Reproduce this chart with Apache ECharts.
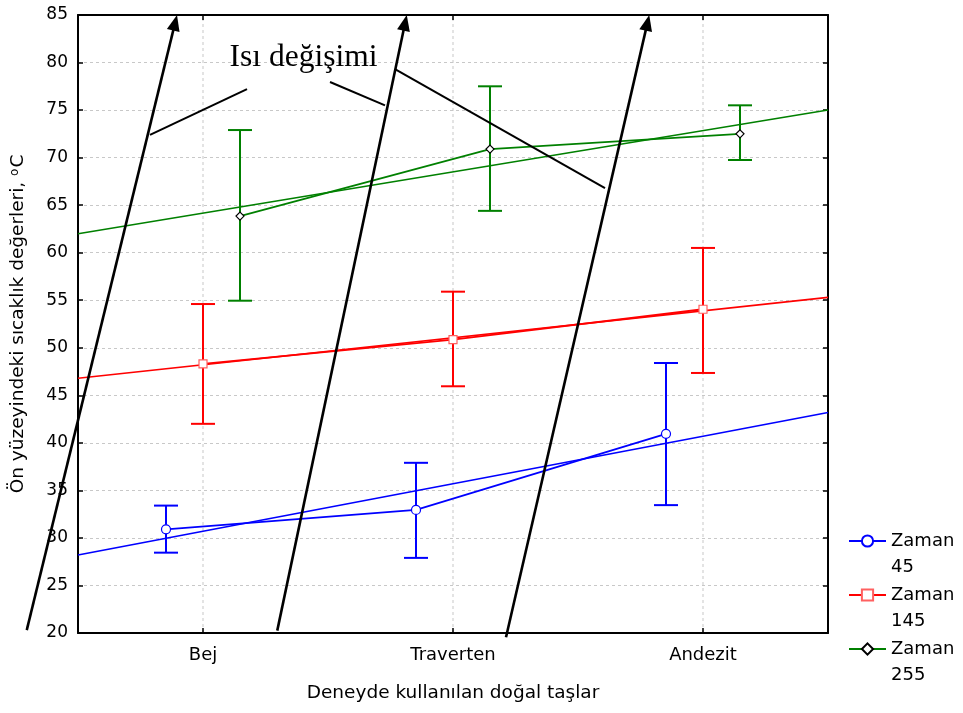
<!DOCTYPE html>
<html>
<head>
<meta charset="utf-8">
<script src="https://cdn.jsdelivr.net/npm/echarts@6/dist/echarts.min.js"></script>
<style>
html,body{margin:0;padding:0;background:#fff;}
#c{width:963px;height:713px;}
</style>
</head>
<body>
<div id="c"></div>
<script>
// ---- data ----
const categories = ['Bej', 'Traverten', 'Andezit'];
const seriesNames = ['Zaman 45', 'Zaman 145', 'Zaman 255'];
const mean45 = [30.9, 32.95, 40.95];
const low45 = [28.45, 27.9, 33.45];
const high45 = [33.4, 37.9, 48.4];
const mean145 = [48.3, 50.85, 54.05];
const low145 = [42.0, 45.95, 47.35];
const high145 = [54.6, 55.9, 60.5];
const mean255 = [63.85, 70.9, 72.5];
const low255 = [54.95, 64.4, 69.75];
const high255 = [72.9, 77.5, 75.5];
const trend45 = [28.2, 43.2];
const trend145 = [46.8, 55.3];
const trend255 = [62.0, 75.0];
const yTicks = [20, 25, 30, 35, 40, 45, 50, 55, 60, 65, 70, 75, 80, 85];
const annotationText = 'Isı değişimi';
// annotation arrows / pointer lines in data space [x1, y1, x2, y2]
const arrows = [
  [-0.205, 20.3, 0.396, 85],
  [0.797, 20.25, 1.315, 85],
  [1.712, 19.55, 2.285, 85]
];
const pointers = [
  [0.288, 72.4, 0.676, 77.2],
  [1.008, 77.95, 1.228, 75.5],
  [1.268, 79.3, 2.108, 66.8]
];
const annotationPos = [0.902, 80.5];

// ---- build ----
const colors = ['#0000ff', '#ff0000', '#008000'];
const markerSymbols = ['circle', 'rect', 'diamond'];
const markerSizes = [9, 8, 8];
const markerBorders = ['#0000ff', '#ff6060', '#000000'];
const offsets = [-0.148, 0, 0.148];
const means = [mean45, mean145, mean255];
const lows = [low45, low145, low255];
const highs = [high45, high145, high255];
const trends = [trend45, trend145, trend255];
const font = '"DejaVu Sans", Arial, sans-serif';

const series = [];

// vertical grid lines at category centres
series.push({
  type: 'custom', name: 'vgrid', xAxisIndex: 2, yAxisIndex: 0, z: 0, silent: true,
  data: categories.map((c, i) => [i + 0.5]),
  renderItem: function (params, api) {
    const x = api.value(0);
    const p1 = api.coord([x, yTicks[0]]);
    const p2 = api.coord([x, yTicks[yTicks.length - 1]]);
    return { type: 'line', shape: { x1: p1[0], y1: p1[1], x2: p2[0], y2: p2[1] },
      style: { stroke: '#c8c8c8', lineWidth: 1, lineDash: [3, 3] } };
  }
});

for (let s = 0; s < 3; s++) {
  series.push({
    type: 'line', name: seriesNames[s], xAxisIndex: 2, yAxisIndex: 0, z: 4,
    data: means[s].map((v, i) => [i + 0.5 + offsets[s], v]),
    symbol: markerSymbols[s], symbolSize: markerSizes[s],
    lineStyle: { color: colors[s], width: 1.8 },
    itemStyle: { color: '#ffffff', borderColor: markerBorders[s], borderWidth: 1.2 },
    emphasis: { disabled: true }
  });
}
for (let s = 0; s < 3; s++) {
  series.push({
    type: 'custom', name: seriesNames[s], xAxisIndex: 2, yAxisIndex: 0, z: 3,
    data: means[s].map((v, i) => [i + 0.5 + offsets[s], lows[s][i], highs[s][i]]),
    renderItem: (function (col) {
      return function (params, api) {
        const x = api.value(0);
        const lo = api.coord([x, api.value(1)]);
        const hi = api.coord([x, api.value(2)]);
        const w = 12;
        const st = { stroke: col, lineWidth: 2 };
        return { type: 'group', children: [
          { type: 'line', shape: { x1: hi[0], y1: hi[1], x2: lo[0], y2: lo[1] }, style: st },
          { type: 'line', shape: { x1: hi[0] - w, y1: hi[1], x2: hi[0] + w, y2: hi[1] }, style: st },
          { type: 'line', shape: { x1: lo[0] - w, y1: lo[1], x2: lo[0] + w, y2: lo[1] }, style: st }
        ] };
      };
    })(colors[s])
  });
  series.push({
    type: 'line', name: 'trend ' + seriesNames[s], xAxisIndex: 2, yAxisIndex: 0, z: 2,
    data: [[0, trends[s][0]], [3, trends[s][1]]],
    symbol: 'none', lineStyle: { color: colors[s], width: 1.6 },
    emphasis: { disabled: true }
  });
}

// annotation: arrows, pointer lines and text
series.push({
  type: 'custom', name: 'annotation', xAxisIndex: 2, yAxisIndex: 0, z: 10, clip: false, silent: true,
  data: arrows.map(a => a.concat([1])).concat(pointers.map(p => p.concat([0]))),
  renderItem: function (params, api) {
    const p1 = api.coord([api.value(0), api.value(1)]);
    const p2 = api.coord([api.value(2), api.value(3)]);
    const isArrow = api.value(4) === 1;
    const children = [];
    if (isArrow) {
      const dx = p2[0] - p1[0], dy = p2[1] - p1[1];
      const len = Math.sqrt(dx * dx + dy * dy);
      const ux = dx / len, uy = dy / len;
      const hl = 16, hw = 6.5;
      const bx = p2[0] - ux * hl, by = p2[1] - uy * hl;
      children.push({ type: 'line', shape: { x1: p1[0], y1: p1[1], x2: bx + ux * 2, y2: by + uy * 2 },
        style: { stroke: '#000', lineWidth: 2.6 } });
      children.push({ type: 'polygon', shape: { points: [[p2[0], p2[1]], [bx - uy * hw, by + ux * hw], [bx + uy * hw, by - ux * hw]] },
        style: { fill: '#000' } });
    } else {
      children.push({ type: 'line', shape: { x1: p1[0], y1: p1[1], x2: p2[0], y2: p2[1] },
        style: { stroke: '#000', lineWidth: 2 } });
    }
    if (params.dataIndex === 0) {
      const tp = api.coord(annotationPos);
      children.push({ type: 'text', x: tp[0], y: tp[1],
        style: { text: annotationText, fill: '#000', font: '31.5px "Liberation Serif", "Times New Roman", serif',
          align: 'center', verticalAlign: 'middle' } });
    }
    return { type: 'group', children: children };
  }
});

const option = {
  animation: false,
  backgroundColor: '#ffffff',
  grid: { left: 78, right: 135, top: 15, bottom: 80, containLabel: false },
  legend: {
    data: seriesNames,
    orient: 'vertical',
    left: 848, top: 502, padding: 0,
    itemWidth: 37, itemHeight: 14, itemGap: -24,
    formatter: function (name) { return '\n' + name.replace(' ', '\n'); },
    textStyle: { fontFamily: font, fontSize: 18, lineHeight: 26, color: '#000' },
    selectedMode: false
  },
  xAxis: [
    {
      type: 'category', data: categories, position: 'bottom', boundaryGap: true,
      axisLine: { lineStyle: { color: '#000', width: 2 } },
      axisTick: { show: true, inside: true, alignWithLabel: true, length: 5, lineStyle: { color: '#000', width: 1.5 } },
      axisLabel: { fontFamily: font, fontSize: 18, color: '#000', margin: 13 },
      splitLine: { show: false },
      name: 'Deneyde kullanılan doğal taşlar', nameLocation: 'middle', nameGap: 51,
      nameTextStyle: { fontFamily: font, fontSize: 18.5, color: '#000' }
    },
    {
      type: 'category', data: categories, position: 'top', boundaryGap: true,
      axisLine: { lineStyle: { color: '#000', width: 2 } },
      axisTick: { show: true, inside: true, alignWithLabel: true, length: 5, lineStyle: { color: '#000', width: 1.5 } },
      axisLabel: { show: false }, splitLine: { show: false }
    },
    { type: 'value', min: 0, max: 3, show: false, splitLine: { show: false } }
  ],
  yAxis: [
    {
      type: 'value', min: yTicks[0], max: yTicks[yTicks.length - 1], interval: yTicks[1] - yTicks[0], position: 'left',
      axisLine: { show: true, lineStyle: { color: '#000', width: 2 } },
      axisTick: { show: true, inside: true, length: 5, lineStyle: { color: '#000', width: 1.5 } },
      axisLabel: { fontFamily: font, fontSize: 17, color: '#000', margin: 10 },
      splitLine: { show: true, lineStyle: { color: '#c8c8c8', width: 1, type: [3, 3] } },
      name: 'Ön yüzeyindeki sıcaklık değerleri, {sup|o}C', nameLocation: 'middle', nameGap: 50,
      nameTextStyle: { fontFamily: font, fontSize: 18.5, color: '#000',
        rich: { sup: { fontFamily: font, fontSize: 12, color: '#000', verticalAlign: 'top', padding: [0, 1, 7, 0] } } }
    },
    {
      type: 'value', min: yTicks[0], max: yTicks[yTicks.length - 1], interval: yTicks[1] - yTicks[0], position: 'right',
      axisLine: { show: true, lineStyle: { color: '#000', width: 2 } },
      axisTick: { show: true, inside: true, length: 5, lineStyle: { color: '#000', width: 1.5 } },
      axisLabel: { show: false }, splitLine: { show: false }
    }
  ],
  series: series
};

const chart = echarts.init(document.getElementById('c'), null, { renderer: 'canvas' });
chart.setOption(option);
</script>
</body>
</html>
